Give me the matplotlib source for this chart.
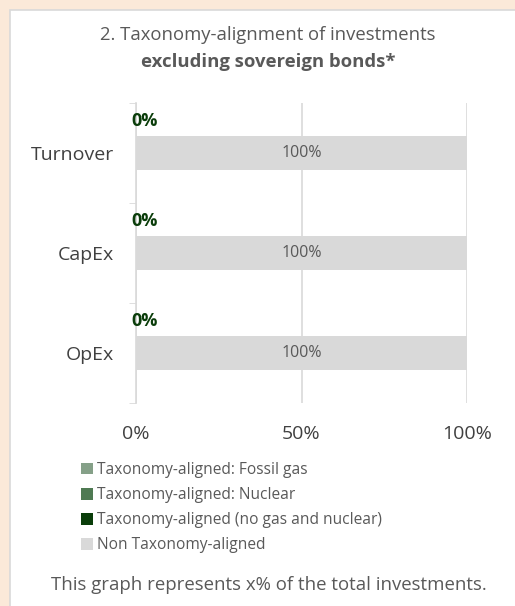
import matplotlib

matplotlib.use("agg")
import matplotlib.pyplot as plt
from matplotlib.patches import Rectangle

plt.rcParams['font.family'] = ['Open Sans', 'DejaVu Sans']

categories = ["Turnover", "CapEx", "OpEx"]
fossil_gas = [0, 0, 0]
nuclear = [0, 0, 0]
aligned_other = [0, 0, 0]
non_aligned = [100, 100, 100]
legend_labels = [
    "Taxonomy-aligned: Fossil gas",
    "Taxonomy-aligned: Nuclear",
    "Taxonomy-aligned (no gas and nuclear)",
    "Non Taxonomy-aligned",
]
colors = ["#85A088", "#4F7A53", "#0A3D0A", "#D9D9D9"]
text_grey = "#595959"
dark_grey = "#404040"

fig = plt.figure(figsize=(5.15, 6.06), dpi=100)
fig.patch.set_facecolor("#FBE9D9")
fig.patches.append(Rectangle((10 / 515, -0.01), 1, 1 - 10 / 606 + 0.01, transform=fig.transFigure,
                             facecolor="white", edgecolor="#D9D9D9", linewidth=1.2, zorder=-5))

ax = fig.add_axes([136 / 515, 1 - 403 / 606, 331 / 515, 300 / 606])
ax.set_zorder(2)
ys = list(range(len(categories)))

left = [0, 0, 0]
for vals, col, lab in zip([fossil_gas, nuclear, aligned_other, non_aligned], colors, legend_labels):
    ax.barh(ys, vals, left=left, height=0.34, color=col, label=lab, zorder=2)
    left = [a + b for a, b in zip(left, vals)]

# labels
for i in ys:
    ax.text(non_aligned[i] / 2, i, f"{non_aligned[i]}%", ha="center", va="center",
            fontsize=11.5, color=text_grey, zorder=3)
    ax.text(aligned_other[i] - 1.5, i - 0.32, f"{aligned_other[i]}%", ha="left", va="center",
            fontsize=13, fontweight="bold", color="#0A3D0A", zorder=3)

ax.set_xlim(0, 100)
ax.set_ylim(2.5, -0.5)
ax.set_xticks([0, 50, 100])
ax.set_xticklabels(["0%", "50%", "100%"])
ax.set_yticks(ys)
ax.set_yticklabels(categories)
ax.set_yticks([-0.5, 0.5, 1.5, 2.5], minor=True)
ax.tick_params(axis="y", which="major", length=0, pad=16, labelsize=14, labelcolor=dark_grey)
ax.tick_params(axis="y", which="minor", length=5, color="#D9D9D9")
ax.tick_params(axis="x", length=0, pad=16, labelsize=14, labelcolor=dark_grey)
ax.grid(axis="x", color="#D9D9D9", linewidth=1.2, zorder=1)
for s in ["top", "right", "bottom"]:
    ax.spines[s].set_visible(False)
ax.spines["left"].set_color("#D9D9D9")
ax.spines["left"].set_linewidth(1.2)
ax.set_facecolor("none")

fig.text(268 / 515, 1 - 35 / 606, "2. Taxonomy-alignment of investments", ha="center", va="center",
         fontsize=13.3, color=text_grey)
fig.text(268 / 515, 1 - 62 / 606, "excluding sovereign bonds*", ha="center", va="center",
         fontsize=13.3, fontweight="bold", color=text_grey)

fig.legend(loc="upper left", bbox_to_anchor=(75 / 515, 1 - 456 / 606), frameon=False,
           fontsize=11.2, labelcolor=text_grey, handlelength=0.75, handleheight=0.75,
           handletextpad=0.25, labelspacing=0.58, borderaxespad=0)

fig.text(269 / 515, 1 - 585 / 606, "This graph represents x% of the total investments.",
         ha="center", va="center", fontsize=13.4, color=text_grey)

plt.savefig("out.png", dpi=100, facecolor=fig.get_facecolor())
